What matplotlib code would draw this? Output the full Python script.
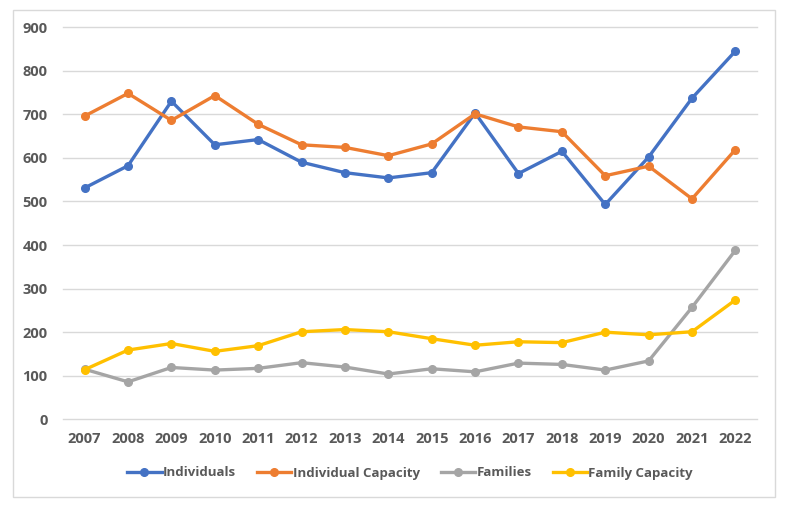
import matplotlib.pyplot as plt
from matplotlib.patches import Rectangle

plt.rcParams['font.family'] = ['Open Sans', 'DejaVu Sans']

years = [str(y) for y in range(2007, 2023)]
individuals = [531, 582, 730, 630, 642, 590, 566, 554, 566, 703, 564, 615, 493, 602, 737, 845]
individual_capacity = [696, 748, 686, 743, 677, 630, 624, 605, 632, 701, 671, 660, 559, 581, 506, 619]
families = [115, 86, 119, 113, 117, 130, 120, 104, 116, 109, 129, 126, 113, 134, 257, 388]
family_capacity = [114, 159, 174, 156, 169, 201, 206, 201, 185, 170, 178, 176, 200, 194, 201, 274]

series = [
    ('Individuals', individuals, '#4472C4'),
    ('Individual Capacity', individual_capacity, '#ED7D31'),
    ('Families', families, '#A5A5A5'),
    ('Family Capacity', family_capacity, '#FFC000'),
]

fig = plt.figure(figsize=(7.87, 5.12), dpi=100)
ax = fig.add_axes([0.080, 0.181, 0.882, 0.766])

x = range(len(years))
for name, vals, color in series:
    ax.plot(x, vals, color=color, linewidth=2.4, marker='o', markersize=5.5, label=name)

ax.set_xlim(-0.5, len(years) - 0.5)
ax.set_ylim(0, 900)
ax.set_yticks(range(0, 901, 100))
ax.set_xticks(list(x))
ax.set_xticklabels(years)
ax.grid(axis='y', color='#D9D9D9', linewidth=1)
for g in ax.get_ygridlines():
    g.set_clip_on(False)
ax.set_axisbelow(True)
for s in ax.spines.values():
    s.set_visible(False)
ax.tick_params(length=0, labelsize=10.5, labelcolor='#595959')
ax.tick_params(axis='x', pad=9)
ax.tick_params(axis='y', pad=11)
for lbl in ax.get_xticklabels() + ax.get_yticklabels():
    lbl.set_fontweight('bold')

leg = fig.legend(loc='center', bbox_to_anchor=(410 / 787, 1 - 473 / 512), ncol=4, frameon=False,
                 prop={'weight': 'bold', 'size': 9.5}, handlelength=2.6, handletextpad=0.1,
                 columnspacing=1.6)
for t in leg.get_texts():
    t.set_color('#595959')

fig.patches.append(Rectangle((13 / 787, 1 - 497 / 512), 762 / 787, 487 / 512,
                             transform=fig.transFigure, fill=False, edgecolor='#D9D9D9', linewidth=1))

fig.savefig('out.png', dpi=100)
